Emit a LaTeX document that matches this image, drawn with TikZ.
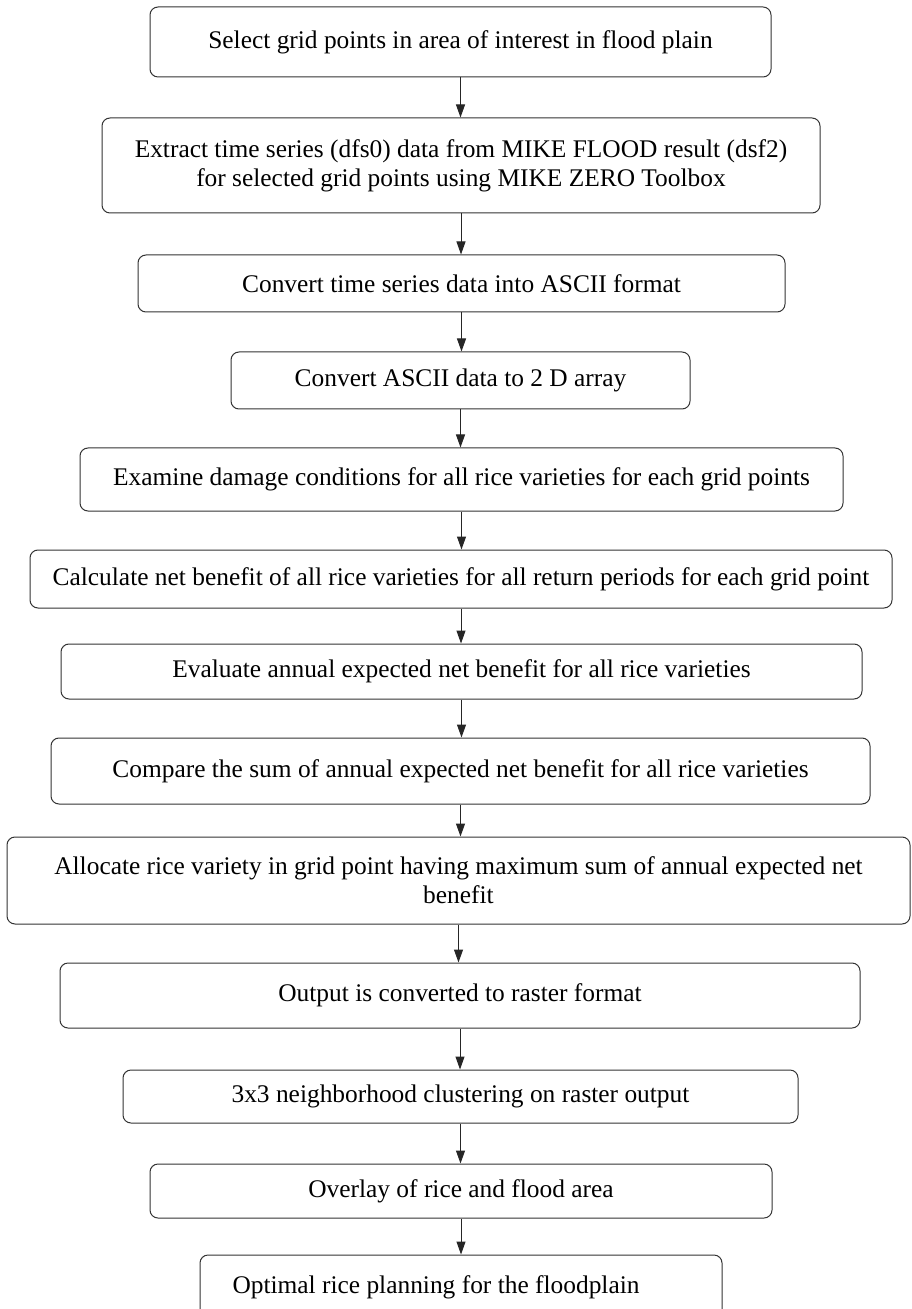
\documentclass[tikz,border=0pt]{standalone}
\usepackage{fontspec}
\setmainfont{Liberation Serif}
\usetikzlibrary{arrows.meta}
\tikzset{stepbox/.style={draw=black!80, line width=0.5pt, rounded corners=4pt, align=center, inner sep=0pt, font=\fontsize{12.7}{14.5}\selectfont}}
\tikzset{flowarrow/.style={draw=black!85, line width=0.5pt, -{Triangle[length=6.5pt, width=4.5pt]}}}

\begin{document}
\begin{tikzpicture}[x=0.5pt, y=-0.5pt]
  \useasboundingbox (0,0) rectangle (911,1309);
  \node[stepbox, minimum width=310.5pt, minimum height=35pt] (b1) at (460.5,42) {Select grid points in area of interest in flood plain};
  \node[stepbox, minimum width=359pt, minimum height=47.5pt] (b2) at (461,165.5) {Extract time series (dfs0) data from MIKE FLOOD result (dsf2)\\for selected grid points using MIKE ZERO Toolbox};
  \node[stepbox, minimum width=323.5pt, minimum height=28.5pt] (b3) at (461.5,283.5) {Convert time series data into ASCII format};
  \node[stepbox, minimum width=229.5pt, minimum height=28.5pt] (b4) at (460.5,380.5) {Convert ASCII data to 2 D array};
  \node[stepbox, minimum width=381.5pt, minimum height=31.5pt] (b5) at (461.5,479.5) {Examine damage conditions for all rice varieties for each grid points};
  \node[stepbox, minimum width=431pt, minimum height=29pt] (b6) at (461,579) {Calculate net benefit of all rice varieties for all return periods for each grid point};
  \node[stepbox, minimum width=400.5pt, minimum height=27.5pt] (b7) at (461.5,671.5) {Evaluate annual expected net benefit for all rice varieties};
  \node[stepbox, minimum width=409.5pt, minimum height=33pt] (b8) at (460.5,771) {Compare the sum of annual expected net benefit for all rice varieties};
  \node[stepbox, minimum width=451.5pt, minimum height=43.5pt] (b9) at (458.5,880.5) {Allocate rice variety in grid point having maximum sum of annual expected net\\benefit};
  \node[stepbox, minimum width=400pt, minimum height=32.5pt] (b10) at (460,995.5) {Output is converted to raster format};
  \node[stepbox, minimum width=337.5pt, minimum height=26.5pt] (b11) at (460.5,1096.5) {3x3 neighborhood clustering on raster output};
  \node[stepbox, minimum width=311pt, minimum height=27pt] (b12) at (461,1191) {Overlay of rice and flood area};
  \node[stepbox, minimum width=261pt, minimum height=32pt] (b13) at (461,1287) {Optimal rice planning for the floodplain\hspace*{25pt}};
  % arrows between the steps
  \foreach \a/\b in {b1/b2, b2/b3, b3/b4, b4/b5, b5/b6, b6/b7, b7/b8, b8/b9, b9/b10, b10/b11, b11/b12, b12/b13}
    \draw[flowarrow] (\a.south) -- (\a.south |- \b.north);
\end{tikzpicture}
\end{document}
